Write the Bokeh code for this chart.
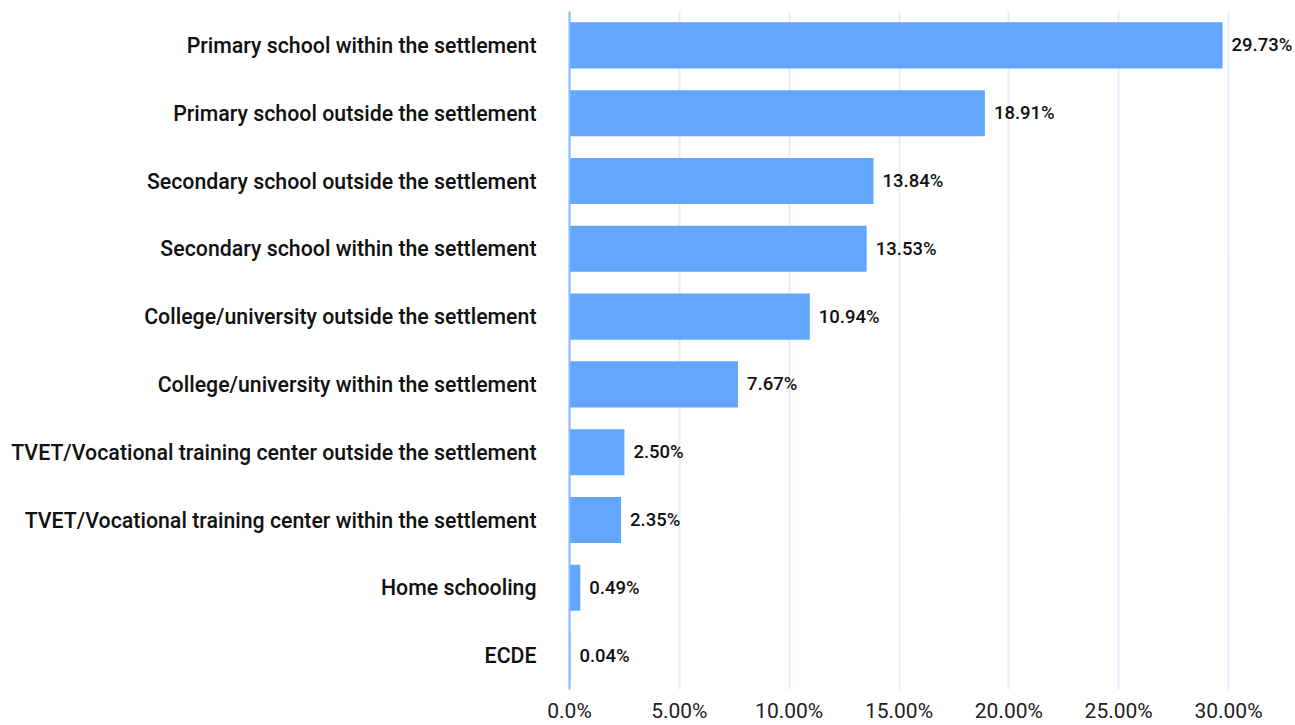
from bokeh.plotting import figure
from bokeh.models import ColumnDataSource, FactorRange, Range1d, FixedTicker, LabelSet
from bokeh.core.properties import value
from bokeh.embed import file_html
from bokeh.resources import INLINE

categories = [
    "Primary school within the settlement",
    "Primary school outside the settlement",
    "Secondary school outside the settlement",
    "Secondary school within the settlement",
    "College/university outside the settlement",
    "College/university within the settlement",
    "TVET/Vocational training center outside the settlement",
    "TVET/Vocational training center within the settlement",
    "Home schooling",
    "ECDE",
]
values = [29.73, 18.91, 13.84, 13.53, 10.94, 7.67, 2.50, 2.35, 0.49, 0.04]
value_labels = ["29.73%", "18.91%", "13.84%", "13.53%", "10.94%", "7.67%", "2.50%", "2.35%", "0.49%", "0.04%"]
tick_values = [0, 5, 10, 15, 20, 25, 30]
tick_labels = ["0.0%", "5.00%", "10.00%", "15.00%", "20.00%", "25.00%", "30.00%"]

W, H = 1295, 725
LEFT = 569
TOP = 11
BOTTOM = H - 691
x_end = (W - LEFT) / ((1228 - 569) / 30.0)

MED = "Roboto Medium, Roboto"

src = ColumnDataSource(dict(cat=categories, val=values, lab=value_labels))

p = figure(
    width=W, height=H,
    y_range=FactorRange(factors=list(reversed(categories)), range_padding=0.0),
    x_range=Range1d(0, x_end),
    output_backend="svg", toolbar_location=None,
    min_border_left=LEFT, min_border_right=0, min_border_top=TOP, min_border_bottom=BOTTOM,
)
p.outline_line_color = None
p.background_fill_color = "white"
p.border_fill_color = "white"

p.hbar(y="cat", right="val", left=0, height=0.68, source=src,
       fill_color="#63a6fd", line_color=None)

labels = LabelSet(x="val", y="cat", text="lab", source=src, x_offset=9,
                  text_baseline="middle", text_align="left",
                  text_font=value(MED), text_font_size="18.5px", text_color="#111111")
p.add_layout(labels)

# x axis
p.xaxis.ticker = FixedTicker(ticks=tick_values)
p.xaxis.major_label_overrides = {t: l for t, l in zip(tick_values, tick_labels)}
p.xaxis.axis_line_color = None
p.xaxis.major_tick_line_color = None
p.xaxis.minor_tick_line_color = None
p.xaxis.major_tick_out = 0
p.xaxis.major_tick_in = 0
p.xaxis.major_label_standoff = 9
p.xaxis.major_label_text_font = "Roboto"
p.xaxis.major_label_text_font_size = "21px"
p.xaxis.major_label_text_color = "#222222"

# y axis
p.yaxis.axis_line_color = "#86b8f8"
p.yaxis.axis_line_width = 2
p.yaxis.major_tick_line_color = None
p.yaxis.minor_tick_line_color = None
p.yaxis.major_tick_out = 0
p.yaxis.major_tick_in = 0
p.yaxis.major_label_standoff = 33
p.yaxis.major_label_text_font = MED
p.yaxis.major_label_text_font_size = "21.3px"
p.yaxis.major_label_text_color = "#111111"

p.xgrid.ticker = FixedTicker(ticks=tick_values)
p.xgrid.grid_line_color = "#e3eefd"
p.xgrid.grid_line_width = 2
p.ygrid.grid_line_color = None

open("out.html", "w").write(file_html(p, INLINE))
